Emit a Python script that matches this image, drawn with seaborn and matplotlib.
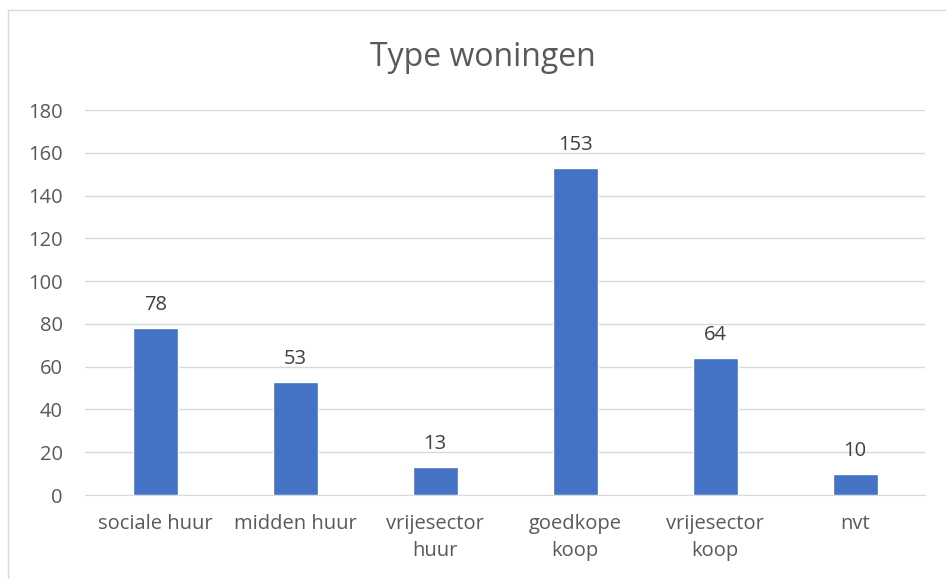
import matplotlib
matplotlib.use('Agg')
import matplotlib.pyplot as plt
from matplotlib.lines import Line2D
import seaborn as sns
import pandas as pd

categorieen = ['sociale huur', 'midden huur', 'vrijesector\nhuur', 'goedkope\nkoop', 'vrijesector\nkoop', 'nvt']
aantallen = [78, 53, 13, 153, 64, 10]

df = pd.DataFrame({'type': categorieen, 'aantal': aantallen})

sns.set_style('white')
plt.rcParams['font.family'] = ['Open Sans', 'DejaVu Sans']

fig = plt.figure(figsize=(9.46, 5.79), dpi=100)
ax = fig.add_axes([0.09, 0.145, 0.888, 0.665])

sns.barplot(data=df, x='type', y='aantal', color='#4472C4', width=0.32,
            saturation=1, ax=ax)

for i, v in enumerate(aantallen):
    ax.text(i, v + 6, str(v), ha='center', va='bottom', fontsize=14.5, color='#404040')

ax.set_ylim(0, 180)
ax.set_yticks(range(0, 181, 20))
ax.set_xlim(-0.5, len(categorieen) - 0.5)
ax.grid(axis='y', color='#D9D9D9', linewidth=1)
ax.set_axisbelow(True)
ax.set_xlabel('')
ax.set_ylabel('')
ax.tick_params(axis='both', labelsize=14.5, labelcolor='#595959', length=0)
ax.tick_params(axis='y', pad=16)
ax.tick_params(axis='x', pad=14)
for lbl in ax.get_xticklabels():
    lbl.set_linespacing(1.45)
for s in ['top', 'right', 'left']:
    ax.spines[s].set_visible(False)
ax.spines['bottom'].set_color('#D9D9D9')

fig.text(0.51, 0.9, 'Type woningen', ha='center', va='center', fontsize=23, color='#595959')

# rand: alleen boven en links zichtbaar
fig.lines.append(Line2D([8 / 946, 945 / 946], [1 - 10 / 579, 1 - 10 / 579], transform=fig.transFigure,
                        color='#D9D9D9', linewidth=1))
fig.lines.append(Line2D([8 / 946, 8 / 946], [0, 1 - 10 / 579], transform=fig.transFigure,
                        color='#D9D9D9', linewidth=1))

fig.savefig('out.png', dpi=100)
